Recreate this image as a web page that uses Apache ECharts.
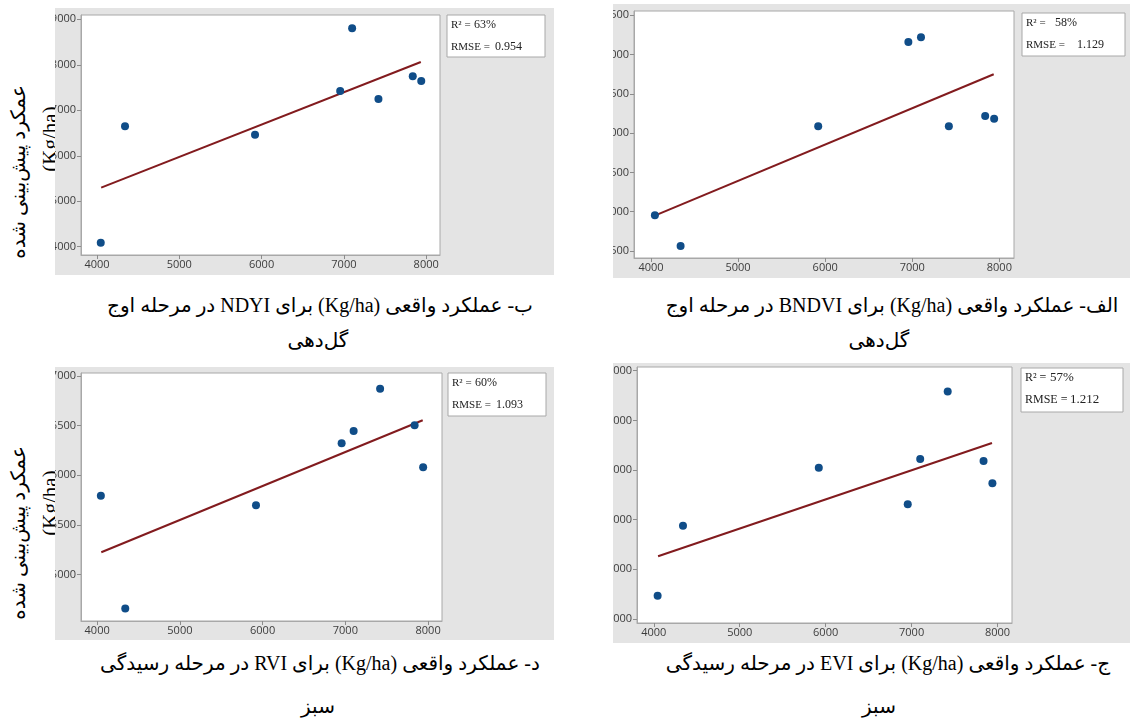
<!DOCTYPE html>
<html>
<head>
<meta charset="utf-8">
<script src="https://cdn.jsdelivr.net/npm/echarts@6/dist/echarts.min.js"></script>
<style>
body{margin:0;width:1130px;height:720px;background:#fff;position:relative;overflow:hidden;
  font-family:"Liberation Serif","DejaVu Sans",serif;color:#000}
.panel{position:absolute;background:#e4e4e4;z-index:2}
.cap{position:absolute;direction:rtl;text-align:center;white-space:nowrap;font-size:20px;line-height:30px;z-index:3}
.ytitle{position:absolute;white-space:nowrap;direction:rtl;transform:translate(-50%,-50%) rotate(-90deg);z-index:1;line-height:24px}
</style>
</head>
<body>

<div class="ytitle" style="left:18px;top:172px;font-size:20px">عمکرد پیش‌بینی شده</div>
<div class="ytitle" style="left:50px;top:139px;font-size:21px;direction:ltr">(Kg/ha)</div>
<div class="ytitle" style="left:18px;top:533px;font-size:20px">عمکرد پیش‌بینی شده</div>
<div class="ytitle" style="left:50px;top:503px;font-size:21px;direction:ltr">(Kg/ha)</div>

<div class="panel" id="p_ndyi"  style="left:55px;top:8px;width:499px;height:267px"></div>
<div class="panel" id="p_bndvi" style="left:613px;top:4px;width:517px;height:274px"></div>
<div class="panel" id="p_rvi"   style="left:55px;top:367px;width:499px;height:273px"></div>
<div class="panel" id="p_evi"   style="left:613px;top:363px;width:517px;height:280px"></div>

<div class="cap" style="left:50px;top:290px;width:540px">ب- عملکرد واقعی (Kg/ha) برای NDYI در مرحله اوج</div>
<div class="cap" style="left:48px;top:325px;width:540px">گل‌دهی</div>
<div class="cap" style="left:652px;top:290px;width:480px">الف- عملکرد واقعی (Kg/ha) برای BNDVI در مرحله اوج</div>
<div class="cap" style="left:639px;top:325px;width:480px">گل‌دهی</div>
<div class="cap" style="left:50px;top:648px;width:540px">د- عملکرد واقعی (Kg/ha) برای RVI در مرحله رسیدگی</div>
<div class="cap" style="left:48px;top:691px;width:540px">سبز</div>
<div class="cap" style="left:648px;top:648px;width:480px">ج- عملکرد واقعی (Kg/ha) برای EVI در مرحله رسیدگی</div>
<div class="cap" style="left:639px;top:691px;width:480px">سبز</div>

<script>
// actual yield (x), same for every panel
var xActual = [4045, 4340, 5920, 6955, 7100, 7420, 7837, 7940];
var xTicks = [4000, 5000, 6000, 7000, 8000];

// predicted yield per index
var yNDYI  = [4088, 6647, 6463, 7424, 8802, 7248, 7746, 7644];
var yBNDVI = [4954, 4564, 6087, 7161, 7221, 6087, 6219, 6185];
var yRVI   = [5795, 4658, 5698, 6322, 6446, 6872, 6503, 6081];
var yEVI   = [4470, 5879, 7047, 6309, 7221, 8584, 7181, 6732];

// fitted line end points
var fitX     = [4050, 7935];
var fitNDYI  = [5298, 8062];
var fitBNDVI = [4954, 6750];
var fitRVI   = [5225, 6554];
var fitEVI   = [5262, 7544];

var yTicksNDYI  = [4000, 5000, 6000, 7000, 8000, 9000];
var yTicksBNDVI = [4500, 5000, 5500, 6000, 6500, 7000, 7500];
var yTicksRVI   = [5000, 5500, 6000, 6500, 7000];
var yTicksEVI   = [4000, 5000, 6000, 7000, 8000, 9000];

var r2   = ['63%', '58%', '60%', '57%'];
var rmse = ['0.954', '1.129', '1.093', '1.212'];

function pairs(xs, ys) {
  return xs.map(function (x, i) { return [x, ys[i]]; });
}

function plain(v) { return String(v); }

function drawPanel(id, p) {
  var chart = echarts.init(document.getElementById(id));
  var lbl = {color: '#3c3c3c', fontFamily: 'Open Sans', fontSize: 11, formatter: plain};
  var bx = p.box;
  var fs = p.fs || 11;
  chart.setOption({
    animation: false,
    grid: {left: p.grid[0], top: p.grid[1], width: p.grid[2], height: p.grid[3],
      outerBoundsMode: 'none', containLabel: false,
      show: true, backgroundColor: '#fff', borderColor: '#a8a8a8', borderWidth: 1},
    xAxis: {
      type: 'value', min: 3805, max: 8168,
      axisLine: {show: true, lineStyle: {color: '#a8a8a8'}},
      axisTick: {show: true, length: 4, lineStyle: {color: '#8c8c8c'}, customValues: xTicks},
      axisLabel: Object.assign({margin: 4, customValues: xTicks}, lbl),
      splitLine: {show: false}
    },
    yAxis: {
      type: 'value', min: p.ymin, max: p.ymax,
      axisLine: {show: true, lineStyle: {color: '#a8a8a8'}},
      axisTick: {show: true, length: 4, lineStyle: {color: '#8c8c8c'}, customValues: p.yticks},
      axisLabel: Object.assign({margin: 5, customValues: p.yticks}, lbl),
      splitLine: {show: false}
    },
    series: [
      {type: 'line', data: pairs(fitX, p.fit), symbol: 'none', z: 2,
        lineStyle: {color: '#821b1e', width: 2}},
      {type: 'scatter', data: pairs(xActual, p.y), symbolSize: 8, z: 3,
        itemStyle: {color: '#104d88', opacity: 1}}
    ],
    graphic: [
      {type: 'rect', shape: {x: bx[0], y: bx[1], width: bx[2], height: bx[3]},
        style: {fill: '#fff', stroke: '#a8a8a8', lineWidth: 1}},
      {type: 'text', x: bx[0] + 4, y: bx[1] + 10,
        style: {text: 'R² =', font: fs + 'px "Liberation Serif"', fill: '#222', verticalAlign: 'middle'}},
      {type: 'text', x: bx[0] + p.vx[0], y: bx[1] + 10,
        style: {text: p.r2, font: (fs + 1) + 'px "Liberation Serif"', fill: '#222', verticalAlign: 'middle'}},
      {type: 'text', x: bx[0] + 4, y: bx[1] + 32,
        style: {text: 'RMSE =', font: fs + 'px "Liberation Serif"', fill: '#222', verticalAlign: 'middle'}},
      {type: 'text', x: bx[0] + p.vx[1], y: bx[1] + 32,
        style: {text: p.rmse, font: (fs + 1) + 'px "Liberation Serif"', fill: '#222', verticalAlign: 'middle'}}
    ]
  });
}

drawPanel('p_ndyi', {grid: [26, 7, 359, 240], ymin: 3818, ymax: 9095, yticks: yTicksNDYI,
  y: yNDYI, fit: fitNDYI, box: [392, 7, 98, 42], vx: [27, 48], r2: r2[0], rmse: rmse[0]});
drawPanel('p_bndvi', {grid: [21, 7, 380, 247], ymin: 4411, ymax: 7555, yticks: yTicksBNDVI,
  y: yBNDVI, fit: fitBNDVI, box: [409, 9, 103, 43], vx: [33, 55], r2: r2[1], rmse: rmse[1]});
drawPanel('p_rvi', {grid: [26, 6, 361, 248], ymin: 4533, ymax: 7030, yticks: yTicksRVI,
  y: yRVI, fit: fitRVI, box: [393, 6, 98, 43], vx: [27, 48], r2: r2[2], rmse: rmse[2]});
drawPanel('p_evi', {grid: [24, 4, 375, 256], ymin: 3919, ymax: 9075, yticks: yTicksEVI,
  y: yEVI, fit: fitEVI, box: [408, 5, 102, 44], vx: [29, 49], fs: 12, r2: r2[3], rmse: rmse[3]});
</script>
</body>
</html>
